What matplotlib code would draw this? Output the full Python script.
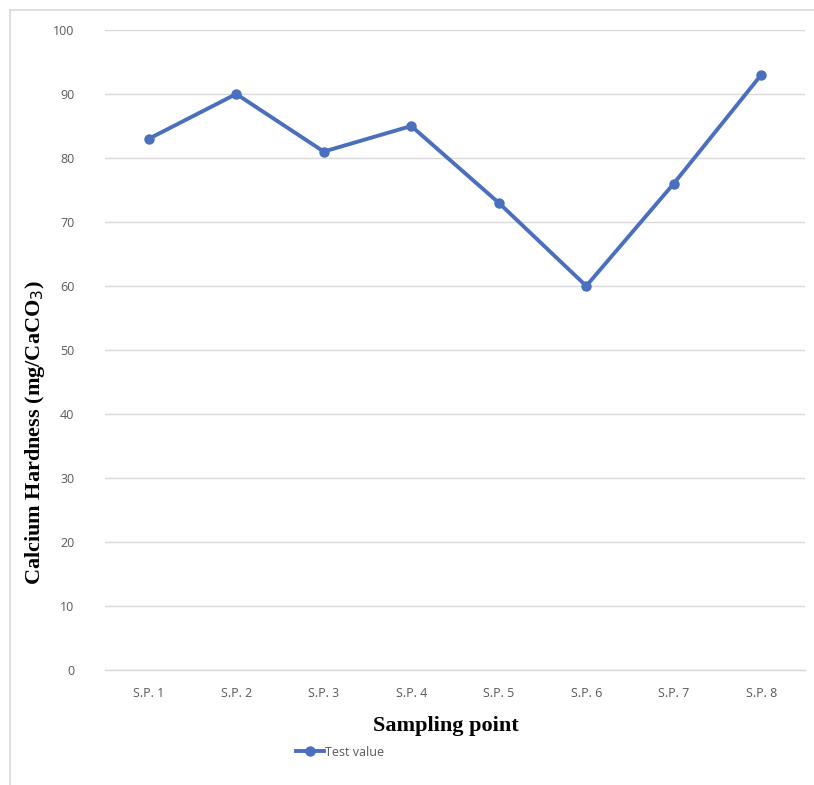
import matplotlib.pyplot as plt
from matplotlib.lines import Line2D

# Calcium hardness test values at each sampling point
points = ['S.P. 1', 'S.P. 2', 'S.P. 3', 'S.P. 4', 'S.P. 5', 'S.P. 6', 'S.P. 7', 'S.P. 8']
test_value = [83, 90, 81, 85, 73, 60, 76, 93]

blue = '#4a6fbd'
tick_grey = '#595959'

fig = plt.figure(figsize=(8.14, 7.85), dpi=100)

# thin chart-area frame on top and left
fig.add_artist(Line2D([10/814, 1.0], [1 - 10/785, 1 - 10/785], color='#d9d9d9', lw=1.2))
fig.add_artist(Line2D([10/814, 10/814], [0.0, 1 - 10/785], color='#d9d9d9', lw=1.2))

ax = fig.add_axes([105/814, 1 - 670/785, 700/814, 640/785])
x = range(len(points))
line, = ax.plot(x, test_value, color=blue, lw=2.8, marker='o', markersize=6.5,
                label='Test value', zorder=3)

ax.set_xlim(-0.5, len(points) - 0.5)
ax.set_ylim(0, 100)
ax.set_yticks(range(0, 101, 10))
ax.set_xticks(list(x))
ax.set_xticklabels(points)
ax.grid(axis='y', color='#d9d9d9', lw=1)
ax.axhline(0, color='#d9d9d9', lw=1, clip_on=False, zorder=1)
ax.set_axisbelow(True)
for s in ax.spines.values():
    s.set_visible(False)
ax.tick_params(length=0, labelsize=9, labelcolor=tick_grey, pad=12)
for lbl in ax.get_xticklabels() + ax.get_yticklabels():
    lbl.set_fontfamily('Open Sans')
ax.tick_params(axis='y', pad=22)

fig.text(446/814, 1 - 726/785, 'Sampling point', ha='center', va='center',
         fontfamily='Liberation Serif', fontweight='bold', fontsize=16)
fig.text(35/814, 1 - 433/785, 'Calcium Hardness (mg/CaCO$_3$)', rotation=90,
         ha='center', va='center', fontfamily='Liberation Serif', fontweight='bold', fontsize=16)

fig.legend(handles=[line], loc='center', bbox_to_anchor=(340/814, 1 - 752/785),
           frameon=False, prop={'family': 'Open Sans', 'size': 9}, labelcolor=tick_grey,
           handlelength=2.2, handletextpad=0.1)

plt.savefig('out.png')
